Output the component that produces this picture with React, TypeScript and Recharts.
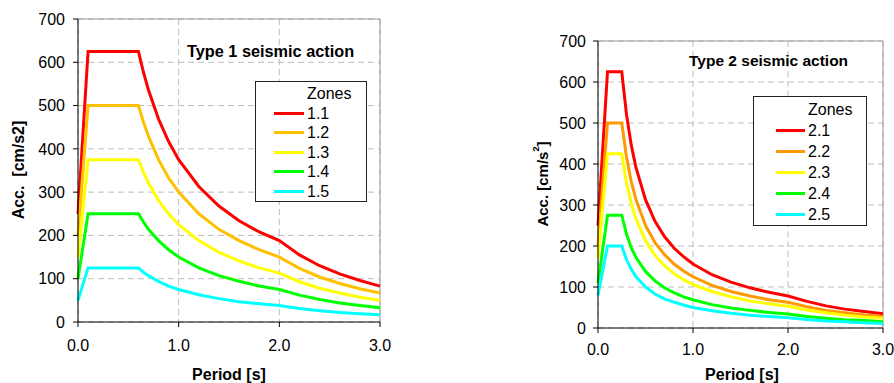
import {
  CartesianGrid,
  Label,
  Legend,
  Line,
  LineChart,
  ReferenceLine,
  XAxis,
  YAxis,
} from 'recharts';

const FONT = '"Liberation Sans", Arial, Helvetica, sans-serif';

// Type 1 seismic action – zones 1.1 … 1.5 (acc. in cm/s2 vs period in s)
const periods1 = [0, 0.1, 0.6, 0.65, 0.7, 0.8, 0.9, 1.0, 1.2, 1.4, 1.6, 1.8, 2.0, 2.2, 2.4, 2.6, 2.8, 3.0];
const zone11 = [250, 625, 625, 577, 536, 469, 417, 375, 313, 268, 234, 208, 188, 155, 130, 111, 96, 83];
const zone12 = [200, 500, 500, 462, 429, 375, 333, 300, 250, 214, 188, 167, 150, 124, 104, 89, 77, 67];
const zone13 = [150, 375, 375, 346, 321, 281, 250, 225, 188, 161, 141, 125, 113, 93, 78, 67, 57, 50];
const zone14 = [100, 250, 250, 231, 214, 188, 167, 150, 125, 107, 94, 83, 75, 62, 52, 44, 38, 33];
const zone15 = [50, 125, 125, 115, 107, 94, 83, 75, 63, 54, 47, 42, 38, 31, 26, 22, 19, 17];

// Type 2 seismic action – zones 2.1 … 2.5
const periods2 = [0, 0.1, 0.25, 0.3, 0.35, 0.4, 0.5, 0.6, 0.7, 0.8, 0.9, 1.0, 1.2, 1.4, 1.6, 1.8, 2.0, 2.2, 2.4, 2.6, 2.8, 3.0];
const zone21 = [250, 625, 625, 521, 446, 391, 313, 260, 223, 195, 174, 156, 130, 112, 98, 87, 78, 65, 54, 46, 40, 35];
const zone22 = [200, 500, 500, 417, 357, 313, 250, 208, 179, 156, 139, 125, 104, 89, 78, 69, 63, 52, 43, 37, 32, 28];
const zone23 = [170, 425, 425, 354, 304, 266, 213, 177, 152, 133, 118, 106, 89, 76, 66, 59, 53, 44, 37, 31, 27, 24];
const zone24 = [110, 275, 275, 229, 196, 172, 138, 115, 98, 86, 76, 69, 57, 49, 43, 38, 34, 28, 24, 20, 18, 15];
const zone25 = [80, 200, 200, 167, 143, 125, 100, 83, 71, 63, 56, 50, 42, 36, 31, 28, 25, 21, 17, 15, 13, 11];

const xTicks = [0, 1, 2, 3];
const yTicks = [0, 100, 200, 300, 400, 500, 600, 700];

const zones1 = ['1.1', '1.2', '1.3', '1.4', '1.5'];
const zones2 = ['2.1', '2.2', '2.3', '2.4', '2.5'];
const colors1 = ['#ff0000', '#ffc000', '#ffff00', '#00ff00', '#00ffff'];
const colors2 = ['#ff0000', '#ff9900', '#ffff00', '#00ff00', '#00ffff'];

const rows1 = periods1.map((t, i) => ({
  t,
  s0: zone11[i],
  s1: zone12[i],
  s2: zone13[i],
  s3: zone14[i],
  s4: zone15[i],
}));
const rows2 = periods2.map((t, i) => ({
  t,
  s0: zone21[i],
  s1: zone22[i],
  s2: zone23[i],
  s3: zone24[i],
  s4: zone25[i],
}));

interface LegendBox {
  padTop: number;
  rowH: number;
  lineX: number;
  textX: number;
  fontSize: number;
}

function zonesLegend(box: LegendBox) {
  return (props: any) => {
    const payload = props.payload ?? [];
    return (
      <div
        style={{
          width: '100%',
          height: '100%',
          boxSizing: 'border-box',
          border: '1px solid #222',
          background: '#fff',
          paddingTop: box.padTop,
          fontFamily: FONT,
          fontSize: box.fontSize,
          color: '#000',
        }}
      >
        <div style={{ height: box.rowH, lineHeight: `${box.rowH}px`, paddingLeft: box.textX }}>Zones</div>
        {payload.map((p: any) => (
          <div
            key={p.value}
            style={{ position: 'relative', height: box.rowH, lineHeight: `${box.rowH}px`, paddingLeft: box.textX }}
          >
            <span
              style={{
                position: 'absolute',
                left: box.lineX,
                top: box.rowH / 2 - 1.5,
                width: box.textX - box.lineX - 3,
                height: 3,
                background: p.color,
              }}
            />
            {p.value}
          </div>
        ))}
      </div>
    );
  };
}

// rotated y title; an optional superscript goes after `text`, then `tail`
function yTitle(text: string, sup: string, tail: string, x: number, y: number, size: number) {
  return () => (
    <text
      x={x}
      y={y}
      transform={`rotate(-90, ${x}, ${y})`}
      textAnchor="middle"
      dominantBaseline="central"
      fontFamily={FONT}
      fontSize={size}
      fontWeight="bold"
      fill="#000"
    >
      {text}
      {sup ? (
        <>
          <tspan fontSize={size * 0.62} dy={-size * 0.4}>
            {sup}
          </tspan>
          <tspan dy={size * 0.4}>{tail}</tspan>
        </>
      ) : (
        tail
      )}
    </text>
  );
}

function xTitle(text: string, x: number, y: number, size: number) {
  return () => (
    <text x={x} y={y} textAnchor="middle" fontFamily={FONT} fontSize={size} fontWeight="bold" fill="#000">
      {text}
    </text>
  );
}

interface PanelProps {
  rows: Record<string, number>[];
  names: string[];
  colors: string[];
  top: number;
  right: number;
  xHeight: number;
  yWidth: number;
  tickSize: number;
  yMargin: number;
  xMargin: number;
  yLabel: [string, string, string];
  yLabelSize: number;
  yLabelX: number;
  yLabelY: number;
  xLabelX: number;
  xLabelY: number;
  legendPos: { left: number; top: number; width: number; height: number };
  legendBox: LegendBox;
}

function Panel(p: PanelProps) {
  const tick = { fontFamily: FONT, fontSize: p.tickSize, fill: '#000' };
  const [yText, ySup, yTail] = p.yLabel;
  return (
    <LineChart
      width={400}
      height={383}
      data={p.rows}
      margin={{ top: p.top, right: p.right, bottom: 0, left: 0 }}
    >
      <CartesianGrid stroke="#bdbdbd" strokeDasharray="6 4" />
      <ReferenceLine y={700} stroke="#9a9a9a" />
      <ReferenceLine x={3} stroke="#9a9a9a" />
      <XAxis
        type="number"
        dataKey="t"
        domain={[0, 3]}
        ticks={xTicks}
        height={p.xHeight}
        tickFormatter={(v: number) => v.toFixed(1)}
        tick={tick}
        tickSize={5}
        tickMargin={p.xMargin}
        stroke="#000"
      >
        <Label content={xTitle('Period [s]', p.xLabelX, p.xLabelY, 16)} />
      </XAxis>
      <YAxis
        type="number"
        domain={[0, 700]}
        ticks={yTicks}
        width={p.yWidth}
        tick={tick}
        tickSize={5}
        tickMargin={p.yMargin}
        stroke="#000"
      >
        <Label content={yTitle(yText, ySup, yTail, p.yLabelX, p.yLabelY, p.yLabelSize)} />
      </YAxis>
      <Legend
        layout="vertical"
        align="center"
        verticalAlign="middle"
        wrapperStyle={p.legendPos}
        content={zonesLegend(p.legendBox)}
      />
      {p.names.map((n, i) => (
        <Line
          key={n}
          type="linear"
          dataKey={`s${i}`}
          name={n}
          stroke={p.colors[i]}
          strokeWidth={3}
          dot={false}
          activeDot={false}
          isAnimationActive={false}
        />
      ))}
    </LineChart>
  );
}

const titleStyle = {
  position: 'absolute' as const,
  fontFamily: FONT,
  fontWeight: 'bold' as const,
  color: '#000',
  whiteSpace: 'nowrap' as const,
  lineHeight: 1,
};

export default function App() {
  return (
    <div
      style={{
        position: 'absolute',
        left: 0,
        top: 0,
        width: 894,
        height: 383,
        overflow: 'hidden',
        background: '#fff',
      }}
    >
      <div style={{ position: 'absolute', left: 0, top: 0 }}>
        <Panel
          rows={rows1}
          names={zones1}
          colors={colors1}
          top={19}
          right={20}
          xHeight={61}
          yWidth={78}
          tickSize={16}
          yMargin={8}
          xMargin={13}
          yLabel={['', '', 'Acc.\u00a0 [cm/s2]']}
          yLabelSize={16}
          yLabelX={18}
          yLabelY={170}
          xLabelX={229}
          xLabelY={380}
          legendPos={{ left: 255, top: 81, width: 112, height: 121 }}
          legendBox={{ padTop: 2, rowH: 19.5, lineX: 18, textX: 51, fontSize: 16 }}
        />
        <div style={{ ...titleStyle, left: 187, top: 43, fontSize: 16.3 }}>Type 1 seismic action</div>
      </div>
      <div style={{ position: 'absolute', left: 494, top: 0 }}>
        <Panel
          rows={rows2}
          names={zones2}
          colors={colors2}
          top={41}
          right={11}
          xHeight={55}
          yWidth={104}
          tickSize={16}
          yMargin={7}
          xMargin={11}
          yLabel={['Acc. [cm/s', '2', ']']}
          yLabelSize={15}
          yLabelX={48}
          yLabelY={184}
          xLabelX={248}
          xLabelY={380}
          legendPos={{ left: 259, top: 96, width: 114, height: 130 }}
          legendBox={{ padTop: 2, rowH: 21, lineX: 22, textX: 54, fontSize: 16 }}
        />
        <div style={{ ...titleStyle, left: 195, top: 53, fontSize: 15.5 }}>Type 2 seismic action</div>
      </div>
    </div>
  );
}
